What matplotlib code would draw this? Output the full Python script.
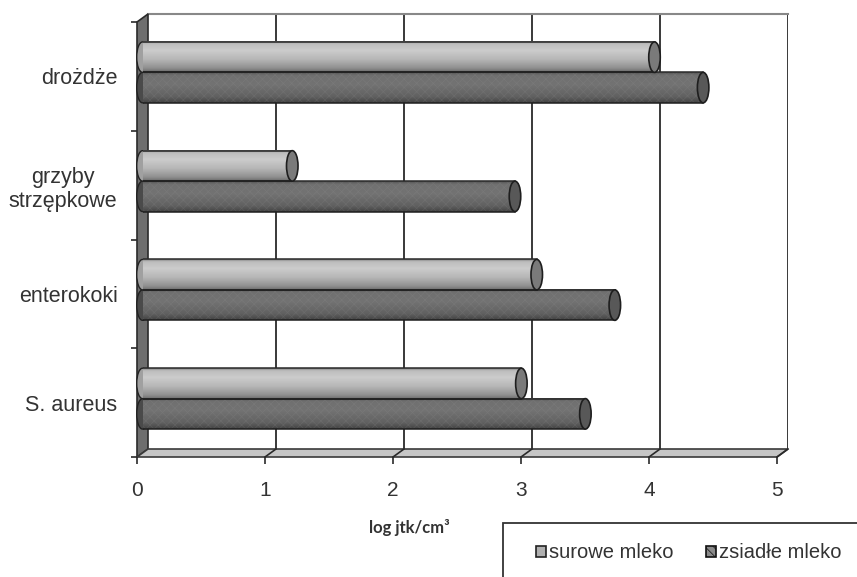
import numpy as np
import matplotlib
matplotlib.use('Agg')
import matplotlib.pyplot as plt
from matplotlib.patches import Rectangle, Ellipse, Polygon, Patch
from matplotlib.transforms import IdentityTransform

# data, bottom category first
categories = ['S. aureus', 'enterokoki', 'grzyby\nstrzępkowe', 'drożdże']
surowe = [2.96, 3.08, 1.17, 4.00]
zsiadle = [3.46, 3.69, 2.91, 4.38]
series_names = ['surowe mleko', 'zsiadłe mleko']
xticks = [0, 1, 2, 3, 4, 5]
xlabel = 'log jtk/cm³'

W, H = 857, 577
TXT = '#333333'
plt.rcParams['font.family'] = ['Liberation Sans', 'DejaVu Sans']
plt.rcParams['hatch.linewidth'] = 0.5


def box(l, t, r, b):
    # pixel box (from top-left) -> figure fraction rect
    return [l / W, 1 - b / H, (r - l) / W, (b - t) / H]


fig = plt.figure(figsize=(W / 100, H / 100), dpi=100)
axb = fig.add_axes(box(148, 14, 788, 449))      # back wall
axm = fig.add_axes(box(142.5, 18, 782.5, 453))  # mid depth, bars live here
ax = fig.add_axes(box(137, 22, 777, 457))       # front plane, ticks + labels
axb.set_zorder(0); axm.set_zorder(1); ax.set_zorder(2)

ncat = len(categories)
for a in (axb, axm, ax):
    a.set_xlim(xticks[0], xticks[-1])
    a.set_ylim(0, ncat)

# --- back wall
axb.set_xticks([]); axb.set_yticks([])
for s in ('left', 'right', 'bottom'):
    axb.spines[s].set_visible(False)
axb.spines['top'].set_color('#888888')
axb.spines['top'].set_linewidth(1.5)
for x in xticks[1:]:
    axb.axvline(x, color='#2a2a2a', lw=1.3)

# side wall and floor, joining front plane to back wall
disp = IdentityTransform()
f = ax.transData.transform
b = axb.transData.transform
side = Polygon([f((0, 0)), f((0, ncat)), b((0, ncat)), b((0, 0))],
               closed=True, fc='#6e6e6e', ec='#2a2a2a', lw=1.2,
               transform=disp, clip_on=False, zorder=3)
floor = Polygon([f((0, 0)), f((xticks[-1], 0)), b((xticks[-1], 0)), b((0, 0))],
                closed=True, fc='#c6c6c6', ec='#3a3a3a', lw=1.2,
                transform=disp, clip_on=False, zorder=3)
axb.add_patch(side)
axb.add_patch(floor)
for x in xticks[1:]:
    p0, p1 = f((x, 0)), b((x, 0))
    axb.plot([p0[0], p1[0]], [p0[1], p1[1]], color='#2a2a2a', lw=1.2,
             transform=disp, clip_on=False, zorder=4)

# --- cylinders
axm.axis('off')
h = 0.28
ew = 0.09
light_stops = ([0, 0.08, 0.3, 0.6, 0.88, 1.0], [0.50, 0.74, 0.80, 0.71, 0.56, 0.42])
dark_stops = ([0, 0.1, 0.4, 0.8, 1.0], [0.33, 0.44, 0.45, 0.38, 0.26])


def cylinder(a, y0, v, stops, cap, mid, texture=False):
    pos, vals = stops
    grad = np.interp(np.linspace(0, 1, 80), pos, vals)[:, None]
    a.add_patch(Ellipse((0, y0 + h / 2), ew, h, fc=mid, ec='#222222', lw=1,
                        zorder=2, clip_on=False))
    a.imshow(np.repeat(grad, 2, axis=1), cmap='gray', vmin=0, vmax=1,
             extent=[0, v, y0, y0 + h], origin='upper', aspect='auto',
             interpolation='bilinear', zorder=3)
    if texture:
        a.add_patch(Rectangle((0, y0), v, h, fill=False, hatch='xxxx',
                              ec=(0.6, 0.6, 0.6, 0.18), lw=0, zorder=3.5))
    a.plot([0, v], [y0 + h, y0 + h], color='#2a2a2a', lw=1.1, zorder=4)
    a.plot([0, v], [y0, y0], color='#1e1e1e', lw=1.1, zorder=4)
    a.add_patch(Ellipse((v, y0 + h / 2), ew, h, fc=cap, ec='#1e1e1e', lw=1.2,
                        zorder=5, clip_on=False))


for i in range(ncat):
    c = i + 0.5
    cylinder(axm, c - h, zsiadle[i], dark_stops, '#585858', '#4a4a4a', texture=True)
    cylinder(axm, c, surowe[i], light_stops, '#7a7a7a', '#a0a0a0')
axm.set_xlim(xticks[0], xticks[-1])
axm.set_ylim(0, ncat)

# --- front axes: ticks and labels only
ax.patch.set_visible(False)
for s in ax.spines.values():
    s.set_visible(False)
ax.set_xticks(xticks)
ax.set_xticklabels([str(t) for t in xticks])
ax.tick_params(axis='x', direction='out', length=5, width=1.2, color='#2a2a2a',
               pad=12, labelsize=15, labelcolor=TXT)
ax.set_yticks(range(ncat + 1))
ax.set_yticklabels([])
ax.tick_params(axis='y', which='major', direction='out', length=4, width=1.2, color='#2a2a2a')
ax.set_yticks([i + 0.5 for i in range(ncat)], labels=categories, minor=True)
ax.tick_params(axis='y', which='minor', length=0, pad=14, labelsize=15.5, labelcolor=TXT)
for lbl in ax.get_yticklabels(minor=True):
    lbl.set_multialignment('center')
    lbl.set_linespacing(1.2)

fig.text(409 / W, 1 - 528 / H, xlabel, ha='center', va='center', fontsize=12,
         fontweight='bold', family=['Lato', 'DejaVu Sans'], color=TXT)

# --- legend, box runs off the right/bottom edge like the original
fig.add_artist(Rectangle((503 / W, -0.1), 1, 1 - 523 / H + 0.1, transform=fig.transFigure,
                         fc='white', ec='#333333', lw=1.3, zorder=1))
handles = [Patch(fc='#b0b0b0', ec='#222222', lw=1.2),
           Patch(fc='#8a8a8a', ec='#111111', lw=1.2, hatch='\\\\\\\\')]
fig.legend(handles, series_names, loc='center left', bbox_to_anchor=(536 / W, 1 - 553 / H),
           frameon=False, ncol=2, fontsize=14.5, handlelength=0.5, handleheight=0.5,
           handletextpad=0.15, columnspacing=1.6, borderpad=0, borderaxespad=0,
           labelcolor=TXT)

fig.savefig('out.png', dpi=100)
